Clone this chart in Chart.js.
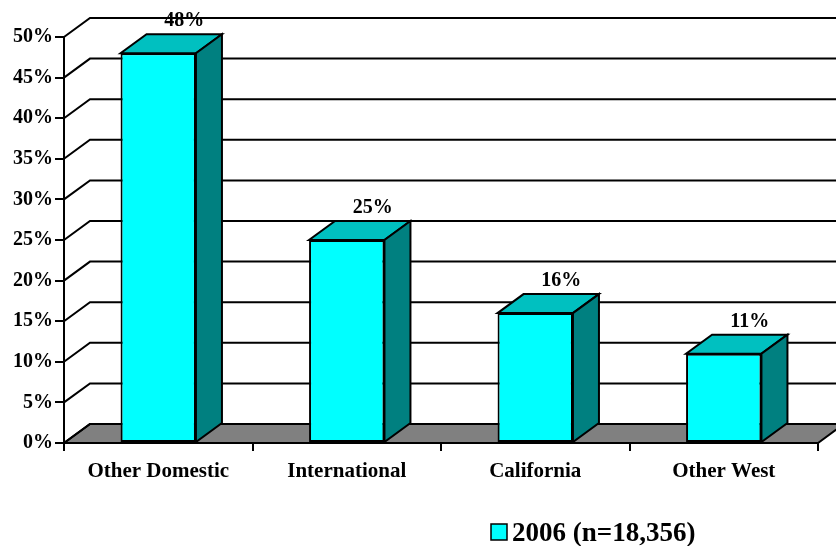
<!DOCTYPE html>
<html>
<head>
<meta charset="utf-8">
<script src="https://cdn.jsdelivr.net/npm/chart.js@4.4.1/dist/chart.umd.min.js"></script>
<style>
  body { margin: 0; background: #fff; }
  canvas { display: block; }
</style>
</head>
<body>
<canvas id="originChart" width="836" height="546"></canvas>
<script>
let categories = ['Other Domestic', 'International', 'California', 'Other West'];
let shares2006 = [48, 25, 16, 11];
let seriesLabel = '2006 (n=18,356)';
let yMax = 50;
let yStep = 5;

// offset of the back plane (pseudo 3D depth)
let depthX = 26;
let depthY = 19;
let serif = '"Liberation Serif", "Times New Roman", serif';

function fillShape(ctx, pts, color) {
    ctx.beginPath();
    ctx.moveTo(pts[0][0], pts[0][1]);
    for (let i = 1; i < pts.length; i++) ctx.lineTo(pts[i][0], pts[i][1]);
    ctx.closePath();
    ctx.fillStyle = color;
    ctx.fill();
    ctx.stroke();
}

let box3d = {
    id: 'box3d',
    beforeDatasetsDraw(chart) {
        let ctx = chart.ctx;
        let area = chart.chartArea;
        let yScale = chart.scales.y;
        ctx.save();
        ctx.lineWidth = 2;
        ctx.strokeStyle = '#000';
        ctx.lineJoin = 'miter';
        // floor
        fillShape(ctx, [
            [area.left, area.bottom],
            [area.right, area.bottom],
            [area.right + depthX, area.bottom - depthY],
            [area.left + depthX, area.bottom - depthY]
        ], '#808080');
        // side wall diagonals + back wall gridlines
        yScale.ticks.forEach(t => {
            let py = yScale.getPixelForValue(t.value);
            ctx.beginPath();
            ctx.moveTo(area.left, py);
            ctx.lineTo(area.left + depthX, py - depthY);
            ctx.lineTo(area.right + depthX, py - depthY);
            ctx.stroke();
        });
        ctx.restore();
    },
    afterDatasetsDraw(chart) {
        let ctx = chart.ctx;
        let meta = chart.getDatasetMeta(0);
        ctx.save();
        ctx.lineWidth = 2;
        ctx.strokeStyle = '#000';
        meta.data.forEach((bar, i) => {
            let half = bar.width / 2;
            let l = bar.x - half, r = bar.x + half;
            let top = bar.y, bottom = bar.base;
            // top face
            fillShape(ctx, [
                [l, top], [r, top],
                [r + depthX, top - depthY], [l + depthX, top - depthY]
            ], '#00c0c0');
            // right side face
            fillShape(ctx, [
                [r, top], [r, bottom],
                [r + depthX, bottom - depthY], [r + depthX, top - depthY]
            ], '#008080');
            // value label
            ctx.fillStyle = '#000';
            ctx.font = 'bold 20px ' + serif;
            ctx.textAlign = 'center';
            ctx.textBaseline = 'alphabetic';
            ctx.fillText(shares2006[i] + '%', bar.x + depthX, top - depthY - 8);
        });
        ctx.restore();
    },
    afterDraw(chart) {
        // legend
        let ctx = chart.ctx;
        ctx.save();
        ctx.fillStyle = '#00ffff';
        ctx.strokeStyle = '#000';
        ctx.lineWidth = 1.5;
        ctx.fillRect(491, 524, 16, 16);
        ctx.strokeRect(491, 524, 16, 16);
        ctx.fillStyle = '#000';
        ctx.font = 'bold 27px ' + serif;
        ctx.textAlign = 'left';
        ctx.textBaseline = 'alphabetic';
        ctx.fillText(chart.data.datasets[0].label, 512, 541);
        ctx.restore();
    }
};

let ctx = document.getElementById('originChart').getContext('2d');
let chart = new Chart(ctx, {
    type: 'bar',
    data: {
        labels: categories,
        datasets: [{
            label: seriesLabel,
            data: shares2006,
            backgroundColor: '#00ffff',
            borderColor: '#000',
            borderWidth: 2,
            borderSkipped: false,
            barPercentage: 0.4,
            categoryPercentage: 1.0
        }]
    },
    options: {
        responsive: false,
        animation: false,
        devicePixelRatio: 1,
        layout: { padding: { left: 0, top: 37, right: 18, bottom: 0 } },
        plugins: {
            legend: { display: false },
            tooltip: { enabled: false }
        },
        scales: {
            x: {
                afterFit(scale) { scale.height = 103; },
                grid: {
                    offset: true,
                    drawOnChartArea: false,
                    drawTicks: true,
                    tickLength: 8,
                    color: '#000',
                    lineWidth: 2
                },
                border: { display: true, color: '#000', width: 2 },
                ticks: {
                    color: '#000',
                    padding: 8,
                    maxRotation: 0,
                    font: { family: serif, size: 21, weight: 'bold' }
                }
            },
            y: {
                min: 0,
                max: yMax,
                afterFit(scale) { scale.width = 64; },
                grid: {
                    drawOnChartArea: false,
                    drawTicks: true,
                    tickLength: 9,
                    color: '#000',
                    lineWidth: 2
                },
                border: { display: true, color: '#000', width: 2 },
                ticks: {
                    stepSize: yStep,
                    color: '#000',
                    padding: 2,
                    font: { family: serif, size: 20, weight: 'bold' },
                    callback: v => v + '%'
                }
            }
        }
    },
    plugins: [box3d]
});
</script>
</body>
</html>
